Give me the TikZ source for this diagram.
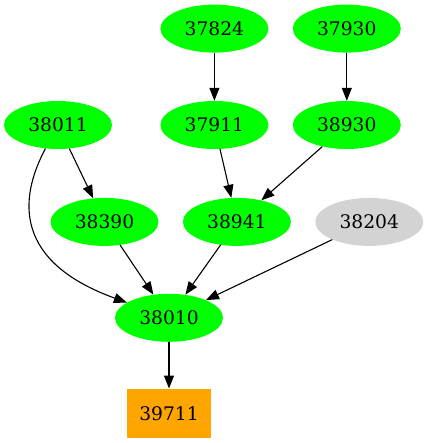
\documentclass[tikz,border=0pt]{standalone}
\usepackage{fontspec}
\setmainfont{DejaVu Serif}
\usepackage{tikz}
\usetikzlibrary{positioning}
\usetikzlibrary{shapes.geometric}
\usetikzlibrary{arrows.meta}

\definecolor{nodegreen}{RGB}{0,255,0}
\definecolor{nodeorange}{RGB}{255,165,0}
\definecolor{nodegray}{RGB}{211,211,211}

\tikzset{
    jobnode/.style={ellipse, fill=nodegreen, minimum width=108pt, minimum height=48pt, inner sep=0pt, font=\fontsize{18.7}{22}\selectfont},
    idlenode/.style={jobnode, fill=nodegray},
    targetnode/.style={rectangle, fill=nodeorange, minimum width=84pt, minimum height=49pt, inner sep=0pt, font=\fontsize{18.7}{22}\selectfont},
    dep/.style={line width=1.1pt, -{Triangle[length=13pt,width=10pt]}}
}

\begin{document}
\begin{tikzpicture}[x=1pt, y=-1pt]
    \useasboundingbox (0,0) rectangle (427,443);

    \node [jobnode] (n38011) at (58,125) {38011};
    \node [jobnode, right=48pt of n38011] (n37911) {37911};
    \node [jobnode, right=24pt of n37911] (n38930) {38930};
    \node [jobnode, above=48pt of n37911] (n37824) {37824};
    \node [jobnode, above=48pt of n38930] (n37930) {37930};

    \node [jobnode, below=48.5pt of n38011, xshift=46.5pt] (n38390) {38390};
    \node [jobnode, right=24pt of n38390] (n38941) {38941};
    \node [idlenode, right=24pt of n38941] (n38204) {38204};

    \node [jobnode, below=47.5pt of n38390, xshift=64.5pt] (n38010) {38010};
    \node [targetnode, below=46.5pt of n38010] (n39711) {39711};

    \draw [dep] (n37824) -- (n37911);
    \draw [dep] (n37930) -- (n38930);
    \draw [dep] (n38011) -- (n38390);
    \draw [dep] (n37911) -- (n38941);
    \draw [dep] (n38930) -- (n38941);
    \draw [dep] (n38011) .. controls (18,200) and (15,262) .. (n38010);
    \draw [dep] (n38390) -- (n38010);
    \draw [dep] (n38941) -- (n38010);
    \draw [dep] (n38204) -- (n38010);
    \draw [dep] (n38010) -- (n39711);
\end{tikzpicture}
\end{document}
